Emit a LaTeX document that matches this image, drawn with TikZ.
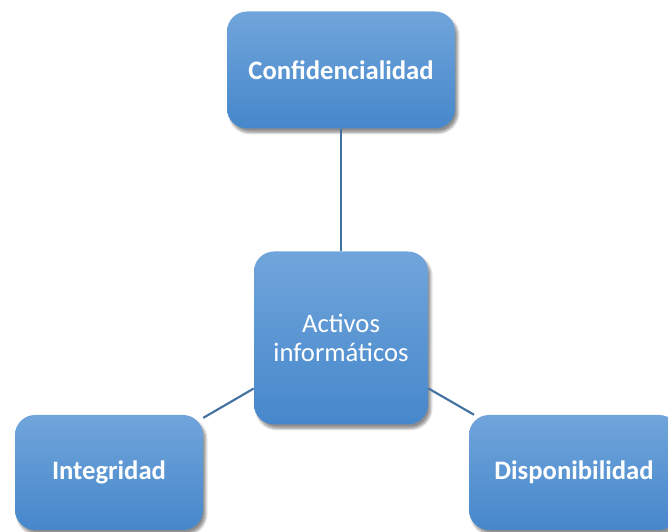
\documentclass[tikz,border=0pt]{standalone}
\usepackage{fontspec}
\setmainfont{Carlito}
\usepackage{tikz}
\usetikzlibrary{shapes,shadows.blur}

\definecolor{boxtop}{RGB}{112,165,219}
\definecolor{boxbot}{RGB}{70,135,203}
\definecolor{linkblue}{RGB}{68,114,160}

\begin{document}
\begin{tikzpicture}[x=0.75pt,y=0.75pt,
    box/.style={rectangle, rounded corners=15pt, top color=boxtop, bottom color=boxbot,
        text=white, align=center, font=\fontsize{20}{22}\selectfont,
        blur shadow={shadow xshift=2pt, shadow yshift=-3pt, shadow blur steps=6, shadow opacity=45}},
    link/.style={draw=linkblue, line width=1.6pt}]
    % Page size
    \useasboundingbox (0,0) rectangle (668,532);

    % Draw boxes
    \node[box, minimum width=171pt, minimum height=87.75pt] (conf) at (341,462) {\bfseries Confidencialidad};
    \node[box, minimum width=130.5pt, minimum height=129.75pt] (activos) at (341,194) {Activos\\informáticos};
    \node[box, minimum width=141pt, minimum height=86.25pt] (integ) at (109,59.5) {\bfseries Integridad};
    \node[box, minimum width=157.5pt, minimum height=86.25pt] (dispo) at (574,59.5) {\bfseries Disponibilidad};

    % Draw links
    \draw[link] (conf) -- (activos);
    \draw[link] (integ) -- (activos);
    \draw[link] (dispo) -- (activos);
\end{tikzpicture}
\end{document}
